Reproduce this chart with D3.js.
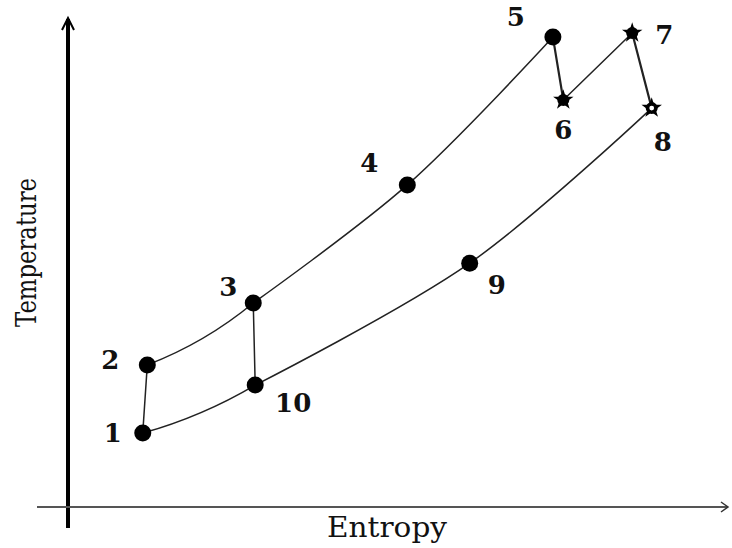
<!DOCTYPE html>
<html>
<head>
<meta charset="utf-8">
<script src="https://cdn.jsdelivr.net/npm/d3@7"></script>
<style>
  html, body { margin: 0; padding: 0; background: #fff; }
  svg { display: block; }
  text { font-family: "DejaVu Serif", "Liberation Serif", serif; fill: #111; }
</style>
</head>
<body>
<svg id="chart" width="732" height="548"></svg>
<script>
// State points of the cycle on the temperature–entropy plane (arbitrary units)
const states      = ["1", "2", "3", "4", "5", "6", "7", "8", "9", "10"];
const entropy     = [11.5, 12.2, 28.5, 52.2, 74.6, 76.2, 86.8, 89.8, 61.8, 28.8];
const temperature = [15.4, 29.6, 42.5, 67.1, 97.9, 84.8, 98.75, 83.1, 50.8, 25.4];

// Processes joining the states (by label)
const processes = [
  ["1", "2"], ["2", "3"], ["3", "4", "5"], ["5", "6"], ["6", "7"],
  ["7", "8"], ["8", "9", "10"], ["10", "1"], ["3", "10"]
];

const xLabel = "Entropy";
const yLabel = "Temperature";

// ---- layout / style ----
const svg = d3.select("#chart");

const x = d3.scaleLinear().domain([0, 100]).range([68, 718]);
const y = d3.scaleLinear().domain([0, 100]).range([507, 27]);

const pts = new Map(states.map((s, i) => [s, [x(entropy[i]), y(temperature[i])]]));

// label placement relative to each state marker
const labelOffset = {
  "1": [-30, 0], "2": [-37, -5], "3": [-25, -16], "4": [-38, -22], "5": [-37, -20],
  "6": [0, 30], "7": [32, 2], "8": [11, 34], "9": [27, 22], "10": [38, 18]
};
// sag of two-point heat-exchange curves (pixels, below the chord)
const sag = { "2-3": 5, "10-1": 4 };

// ---- axes ----
const axisG = svg.append("g");
// temperature axis (thick, arrow on top)
axisG.append("line")
  .attr("x1", x(0)).attr("x2", x(0))
  .attr("y1", 528).attr("y2", 19)
  .attr("stroke", "#000").attr("stroke-width", 4);
axisG.append("path")
  .attr("d", `M${x(0) - 6},${30} L${x(0)},${18} L${x(0) + 6},${30}`)
  .attr("fill", "none").attr("stroke", "#000").attr("stroke-width", 2);
// entropy axis (thin, arrow on right)
axisG.append("line")
  .attr("x1", 37).attr("x2", 727)
  .attr("y1", y(0)).attr("y2", y(0))
  .attr("stroke", "#555").attr("stroke-width", 2);
axisG.append("path")
  .attr("d", `M${721},${y(0) - 5} L${728},${y(0)} L${721},${y(0) + 5}`)
  .attr("fill", "none").attr("stroke", "#333").attr("stroke-width", 1.5);

// axis titles
svg.append("text")
  .attr("x", 327).attr("y", 537)
  .attr("font-size", 27)
  .attr("textLength", 120).attr("lengthAdjust", "spacingAndGlyphs")
  .text(xLabel);
svg.append("text")
  .attr("transform", "translate(36,327) rotate(-90)")
  .attr("font-size", 27)
  .attr("textLength", 149).attr("lengthAdjust", "spacingAndGlyphs")
  .text(yLabel);

// ---- process curves ----
const curveGen = d3.line().curve(d3.curveCatmullRom.alpha(0.5));
const linesG = svg.append("g")
  .attr("fill", "none").attr("stroke", "#222").attr("stroke-linecap", "round");

processes.forEach(p => {
  const coords = p.map(s => pts.get(s));
  const key = p.join("-");
  let d;
  if (coords.length === 2 && sag[key]) {
    const [a, b] = coords;
    const mx = (a[0] + b[0]) / 2, my = (a[1] + b[1]) / 2;
    const dx = b[0] - a[0], dy = b[1] - a[1];
    const len = Math.hypot(dx, dy);
    // normal pointing downward on screen
    let nx = -dy / len, ny = dx / len;
    if (ny < 0) { nx = -nx; ny = -ny; }
    const path = d3.path();
    path.moveTo(a[0], a[1]);
    path.quadraticCurveTo(mx + nx * sag[key] * 2, my + ny * sag[key] * 2, b[0], b[1]);
    d = path.toString();
  } else {
    d = curveGen(coords);
  }
  linesG.append("path")
    .attr("d", d)
    .attr("stroke-width", (key === "5-6" || key === "7-8") ? 2.2 : 1.5);
});

// ---- state markers ----
const marker = { "6": "star", "7": "star", "8": "ring" };
const markG = svg.append("g");
states.forEach(s => {
  const [px, py] = pts.get(s);
  const kind = marker[s] || "dot";
  if (kind === "dot") {
    markG.append("circle").attr("cx", px).attr("cy", py).attr("r", 8.5).attr("fill", "#000");
  } else {
    markG.append("path")
      .attr("transform", `translate(${px},${py})`)
      .attr("d", d3.symbol().type(d3.symbolStar).size(130)())
      .attr("fill", "#000");
    markG.append("circle").attr("cx", px).attr("cy", py).attr("r", 6).attr("fill", "#000");
    if (kind === "ring") {
      markG.append("circle").attr("cx", px).attr("cy", py).attr("r", 2.4).attr("fill", "#fff");
    }
  }
});

// ---- state labels ----
svg.append("g").selectAll("text")
  .data(states)
  .join("text")
  .attr("x", s => pts.get(s)[0] + labelOffset[s][0])
  .attr("y", s => pts.get(s)[1] + labelOffset[s][1])
  .attr("text-anchor", "middle")
  .attr("dominant-baseline", "central")
  .attr("font-size", 26)
  .attr("font-weight", "bold")
  .text(s => s);
</script>
</body>
</html>
